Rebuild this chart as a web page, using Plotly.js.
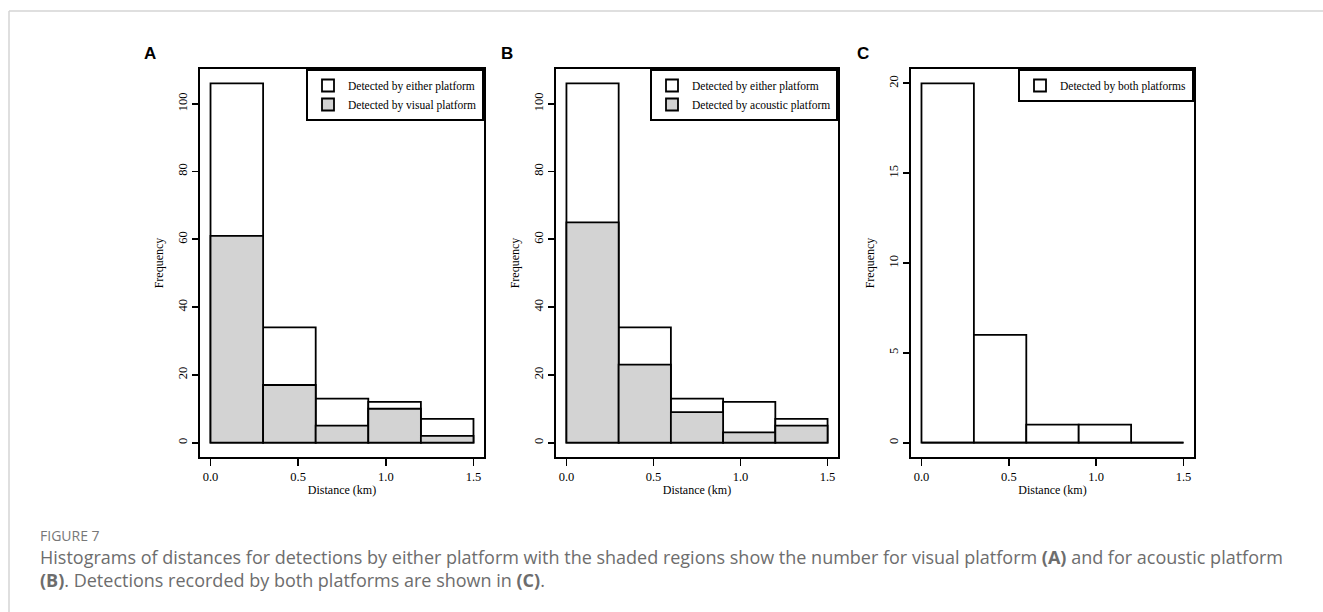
<!DOCTYPE html>
<html>
<head>
<meta charset="utf-8">
<script src="https://cdn.plot.ly/plotly-3.0.1.min.js"></script>
<style>html,body{margin:0;padding:0;background:#fff;}#chart{width:1323px;height:612px;}</style>
</head>
<body>
<div id="chart"></div>
<script>
// ---- data ----
const binEdges = [0, 0.3, 0.6, 0.9, 1.2, 1.5];            // distance bins (km)
const eitherCounts = [106, 34, 13, 12, 7];                 // detected by either platform
const visualCounts = [61, 17, 5, 10, 2];                   // detected by visual platform
const acousticCounts = [65, 23, 9, 3, 5];                  // detected by acoustic platform
const bothCounts = [20, 6, 1, 1, 0];                       // detected by both platforms
const xTickVals = [0, 0.5, 1.0, 1.5];
const panelLabels = ["A", "B", "C"];

// ---- helpers ----
const W = 1323, H = 612;
const centers = binEdges.slice(0, -1).map((e, i) => (e + binEdges[i + 1]) / 2);
const widths = binEdges.slice(0, -1).map((e, i) => binEdges[i + 1] - e);
const fx = p => p / W;
const fy = p => 1 - p / H;

const serif = "Liberation Serif, Times New Roman, serif";
const barLine = {color: "#000", width: 1.8};

function barTrace(counts, name, fill, ax, legend) {
  return {
    type: "bar", x: centers, y: counts, width: widths, name: name,
    marker: {color: fill, line: barLine},
    xaxis: "x" + ax, yaxis: "y" + ax, legend: legend, hoverinfo: "skip"
  };
}

const traces = [
  barTrace(eitherCounts, "Detected by either platform", "#ffffff", "", "legend"),
  barTrace(visualCounts, "Detected by visual platform", "#d3d3d3", "", "legend"),
  barTrace(eitherCounts, "Detected by either platform", "#ffffff", "2", "legend2"),
  barTrace(acousticCounts, "Detected by acoustic platform", "#d3d3d3", "2", "legend2"),
  barTrace(bothCounts, "Detected by both platforms", "#ffffff", "3", "legend3"),
  {
    type: "scatter", mode: "lines",
    x: [binEdges[0], binEdges[binEdges.length - 1]], y: [0, 0],
    line: {color: "#000", width: 1.8}, xaxis: "x3", yaxis: "y3",
    showlegend: false, hoverinfo: "skip"
  }
];

function yRange(maxV) { const pad = maxV * 0.04; return [-pad, maxV + pad]; }
function xRange() {
  const lo = binEdges[0], hi = binEdges[binEdges.length - 1], pad = (hi - lo) * 0.04;
  return [lo - pad, hi + pad];
}

function xAxis(l, r) {
  return {
    domain: [fx(l), fx(r)], range: xRange(), showgrid: false, zeroline: false,
    showline: true, mirror: true, linecolor: "#000", linewidth: 2,
    ticks: "outside", ticklen: 7, tickwidth: 1.8, tickcolor: "#000",
    tickvals: xTickVals, tickformat: ".1f",
    tickfont: {family: serif, size: 12.5, color: "#000"},
    title: {text: "Distance (km)", font: {family: serif, size: 12, color: "#000"}, standoff: 3},
    fixedrange: true
  };
}
function yAxis(maxV, dtick) {
  return {
    domain: [fy(457), fy(69)], range: yRange(maxV), showgrid: false, zeroline: false,
    showline: true, mirror: true, linecolor: "#000", linewidth: 2,
    ticks: "outside", ticklen: 6, tickwidth: 1.8, tickcolor: "#000",
    tick0: 0, dtick: dtick, tickangle: -90,
    tickfont: {family: serif, size: 12.5, color: "#000"},
    title: {text: "Frequency", font: {family: serif, size: 12, color: "#000"}, standoff: 10},
    fixedrange: true
  };
}
function legendAt(right) {
  return {
    x: fx(right), y: fy(69), xanchor: "right", yanchor: "top",
    bgcolor: "#fff", bordercolor: "#000", borderwidth: 2,
    font: {family: serif, size: 11.5, color: "#000"}, tracegroupgap: 0
  };
}

const maxAB = Math.max(...eitherCounts);
const maxC = Math.max(...bothCounts);

const capFont = {family: "Open Sans, Noto Sans, sans-serif", size: 18, color: "#6d6d6d"};

const layout = {
  width: W, height: H, margin: {l: 0, r: 0, t: 0, b: 0},
  paper_bgcolor: "#fff", plot_bgcolor: "#fff",
  barmode: "overlay", bargap: 0, showlegend: true,
  xaxis: xAxis(200, 484), yaxis: yAxis(maxAB, 20),
  xaxis2: xAxis(556, 838), yaxis2: Object.assign(yAxis(maxAB, 20), {anchor: "x2"}),
  xaxis3: xAxis(911, 1194), yaxis3: Object.assign(yAxis(maxC, 5), {anchor: "x3"}),
  legend: legendAt(484), legend2: legendAt(838), legend3: legendAt(1194),
  shapes: [
    {type: "line", xref: "paper", yref: "paper", x0: fx(9), x1: 1, y0: fy(11), y1: fy(11),
     line: {color: "#d4d4d4", width: 1.5}},
    {type: "line", xref: "paper", yref: "paper", x0: fx(9), x1: fx(9), y0: fy(11), y1: 0,
     line: {color: "#d4d4d4", width: 1.5}}
  ],
  annotations: [
    ...[150, 507, 863].map((px, i) => ({
      text: "<b>" + panelLabels[i] + "</b>", xref: "paper", yref: "paper",
      x: fx(px), y: fy(53), xanchor: "center", yanchor: "middle", showarrow: false,
      font: {family: "Liberation Sans, Arial, sans-serif", size: 17, color: "#000"}
    })),
    {text: "FIGURE 7", xref: "paper", yref: "paper", x: fx(38), y: fy(535),
     xanchor: "left", yanchor: "middle", showarrow: false,
     font: {family: "Open Sans, Noto Sans, sans-serif", size: 14, color: "#777"}},
    {text: "Histograms of distances for detections by either platform with the shaded regions show the number for visual platform <b>(A)</b> and for acoustic platform",
     xref: "paper", yref: "paper", x: fx(38), y: fy(557), xanchor: "left", yanchor: "middle",
     showarrow: false, font: capFont},
    {text: "<b>(B)</b>. Detections recorded by both platforms are shown in <b>(C)</b>.",
     xref: "paper", yref: "paper", x: fx(38), y: fy(580), xanchor: "left", yanchor: "middle",
     showarrow: false, font: capFont}
  ]
};

Plotly.newPlot("chart", traces, layout, {displayModeBar: false, staticPlot: true});
</script>
</body>
</html>
